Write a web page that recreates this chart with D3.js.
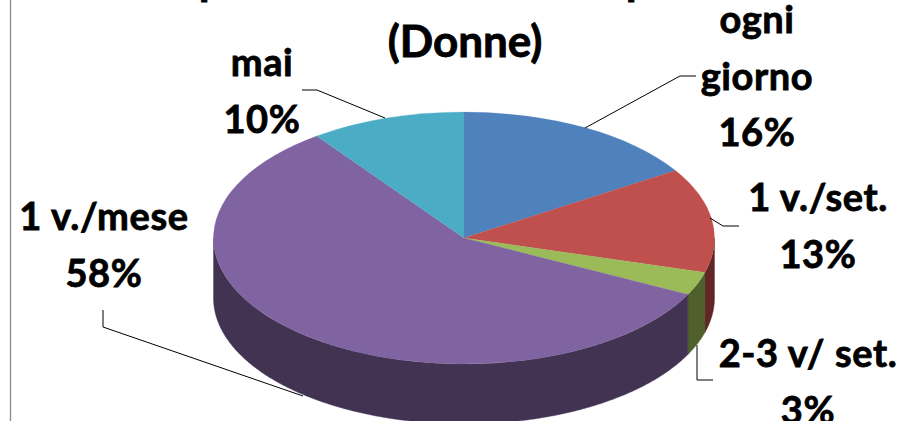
<!DOCTYPE html>
<html><head><meta charset="utf-8">
<script src="https://cdn.jsdelivr.net/npm/d3@7"></script>
<style>html,body{margin:0;padding:0;background:#fff}svg{display:block}
text{font-family:Lato,"Open Sans",sans-serif;font-weight:700;fill:#000;stroke:#000;stroke-width:.8px}</style>
</head><body><svg id="c" width="900" height="421"></svg>
<script>
const categories = ["ogni giorno","1 v./set.","2-3 v/ set.","1 v./mese","mai"];
const values = [16,13.4,3,57.6,10];
const topColors = ["#4f81bd","#c0504d","#9bbb59","#8064a2","#4bacc6"];
const sideColors = ["#2c4a6e","#622626","#4f602d","#433352","#2a6475"];
const nameLines = [["ogni","giorno"],["1 v./set."],["2-3 v/ set."],["1 v./mese"],["mai"]];
const titleLines = ["Sport svolto nel tempo libero","(Donne)"];

const W=900,H=421, cx=464, cy=238, rx=250.5, ry=126, depth=60;
const svg=d3.select("#c").attr("viewBox",[0,0,W,H]);
svg.append("line").attr("x1",10.5).attr("x2",10.5).attr("y1",0).attr("y2",H).attr("stroke","#909090").attr("stroke-width",1.4);

const pie=d3.pie().sort(null).value(d=>d)(values);
const px=a=>cx+rx*Math.sin(a), py=a=>cy-ry*Math.cos(a);

const g=svg.append("g");
const line=d3.line();
pie.forEach((s,i)=>{
  const a0=Math.max(s.startAngle,Math.PI/2), a1=Math.min(s.endAngle,Math.PI*1.5);
  if(a1<=a0) return;
  const angs=d3.range(a0,a1,0.01).concat([a1]);
  const pts=angs.map(a=>[px(a),py(a)]).concat(angs.slice().reverse().map(a=>[px(a),py(a)+depth]));
  g.append("path").attr("d",line(pts)+"Z").attr("fill",sideColors[i]).attr("stroke",sideColors[i]).attr("stroke-width",.4);
});
const arc=d3.arc().innerRadius(0).outerRadius(rx);
const face=svg.append("g").attr("transform",`translate(${cx},${cy}) scale(1,${ry/rx})`);
face.selectAll("path").data(pie).join("path").attr("d",arc).attr("fill",(d,i)=>topColors[i]).attr("stroke",(d,i)=>topColors[i]).attr("stroke-width",.3);

const leaders=[
 [[696,76],[680,76],[585,128]],
 [[739,226],[723,226],[710,218]],
 [[713,380],[697,380],[697,345]],
 [[103,310],[103,327],[303,396]],
 [[302,90],[317,90],[385,118]]
];
leaders.forEach(p=>svg.append("path").attr("d",line(p)).attr("fill","none").attr("stroke","#000").attr("stroke-width",1));

const labelPos=[[757,33],[818,211],[808,367],[104,230],[262,76]];
const fs=38, lh=56.5;
values.forEach((v,i)=>{
  const ls=nameLines[i].concat([Math.round(v)+"%"]);
  const t=svg.append("text").attr("text-anchor","middle").attr("font-size",fs).attr("letter-spacing",.6);
  ls.forEach((s,j)=>t.append("tspan").attr("x",labelPos[i][0]).attr("y",labelPos[i][1]+j*lh).text(s));
});
svg.append("text").attr("x",175).attr("y",-5).attr("font-size",44).attr("word-spacing",19).text(titleLines[0]);
svg.append("text").attr("x",465).attr("y",57).attr("text-anchor","middle").attr("font-size",44).text(titleLines[1]);
</script></body></html>
